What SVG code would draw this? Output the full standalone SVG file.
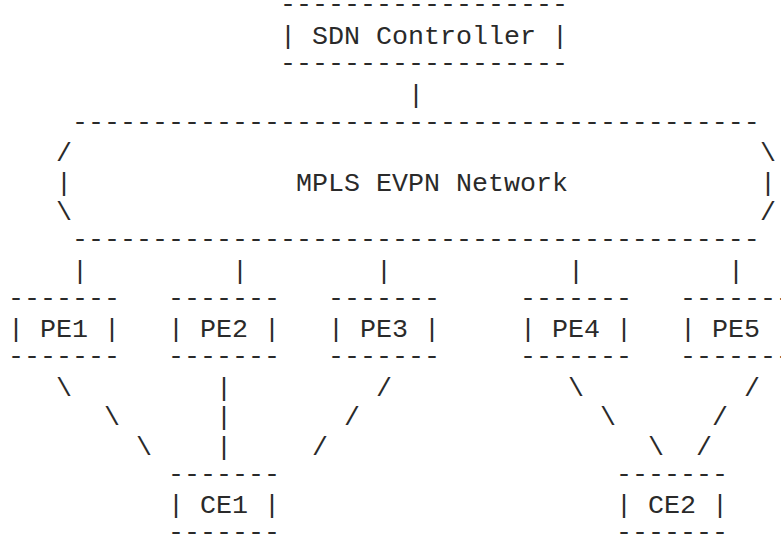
<svg xmlns="http://www.w3.org/2000/svg" width="781" height="535" viewBox="0 0 781 535">
  <style>
    text { font-family: "Liberation Mono", "Courier New", monospace; font-size: 26.67px; fill: #2a2a2a; white-space: pre; }
  </style>
  <rect width="781" height="535" fill="#ffffff"/>
  <!-- grid: column c starts at x = 8 + 16c, row r baseline at y = 14.7 + 29.33r;
       rows of dashes sit 2.5px higher so the rules line up with the box edges -->
  <g id="sdn-controller">
    <text x="280" y="12.2">------------------</text>
    <text x="280" y="44" xml:space="preserve">| SDN Controller |</text>
    <text x="280" y="70.9">------------------</text>
  </g>
  <g id="mpls-evpn-network">
    <text x="72" y="129.5">-------------------------------------------</text>
    <text x="56" y="161.4">/</text>
    <text x="760" y="161.4">\</text>
    <text x="56" y="190.7">|</text>
    <text x="296" y="190.7">MPLS EVPN Network</text>
    <text x="760" y="190.7">|</text>
    <text x="56" y="220">\</text>
    <text x="760" y="220">/</text>
    <text x="72" y="246.8">-------------------------------------------</text>
  </g>
  <g id="pe1">
    <text x="8" y="305.5">-------</text>
    <text x="8" y="337.3" xml:space="preserve">| PE1 |</text>
    <text x="8" y="364.2">-------</text>
  </g>
  <g id="pe2">
    <text x="168" y="305.5">-------</text>
    <text x="168" y="337.3" xml:space="preserve">| PE2 |</text>
    <text x="168" y="364.2">-------</text>
  </g>
  <g id="pe3">
    <text x="328" y="305.5">-------</text>
    <text x="328" y="337.3" xml:space="preserve">| PE3 |</text>
    <text x="328" y="364.2">-------</text>
  </g>
  <g id="pe4">
    <text x="520" y="305.5">-------</text>
    <text x="520" y="337.3" xml:space="preserve">| PE4 |</text>
    <text x="520" y="364.2">-------</text>
  </g>
  <g id="pe5">
    <text x="680" y="305.5">-------</text>
    <text x="680" y="337.3" xml:space="preserve">| PE5 |</text>
    <text x="680" y="364.2">-------</text>
  </g>
  <g id="ce1">
    <text x="168" y="481.5">-------</text>
    <text x="168" y="513.3" xml:space="preserve">| CE1 |</text>
    <text x="168" y="540.2">-------</text>
  </g>
  <g id="ce2">
    <text x="616" y="481.5">-------</text>
    <text x="616" y="513.3" xml:space="preserve">| CE2 |</text>
    <text x="616" y="540.2">-------</text>
  </g>
  <g id="connectors">
    <!-- controller to network -->
    <text x="408" y="102.7">|</text>
    <!-- network to PE routers -->
    <text x="72" y="278.7">|</text>
    <text x="232" y="278.7">|</text>
    <text x="376" y="278.7">|</text>
    <text x="568" y="278.7">|</text>
    <text x="728" y="278.7">|</text>
    <!-- PE1/PE2/PE3 to CE1 -->
    <text x="56" y="396">\</text>
    <text x="104" y="425.3">\</text>
    <text x="136" y="454.7">\</text>
    <text x="216" y="396">|</text>
    <text x="216" y="425.3">|</text>
    <text x="216" y="454.7">|</text>
    <text x="376" y="396">/</text>
    <text x="344" y="425.3">/</text>
    <text x="312" y="454.7">/</text>
    <!-- PE4/PE5 to CE2 -->
    <text x="568" y="396">\</text>
    <text x="600" y="425.3">\</text>
    <text x="648" y="454.7">\</text>
    <text x="744" y="396">/</text>
    <text x="712" y="425.3">/</text>
    <text x="696" y="454.7">/</text>
  </g>
</svg>
